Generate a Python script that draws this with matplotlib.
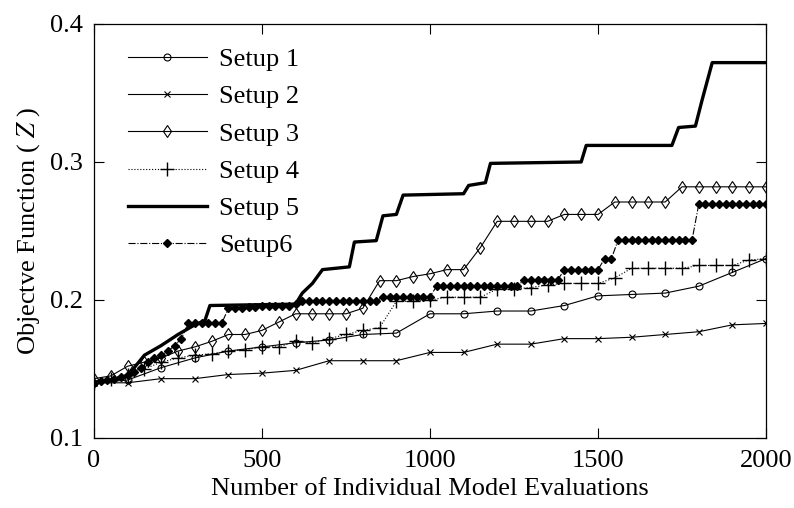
import numpy as np
import matplotlib
matplotlib.use("Agg")
import matplotlib.pyplot as plt

plt.rcParams['font.family'] = ['Liberation Serif', 'DejaVu Serif']
plt.rcParams['mathtext.fontset'] = 'stix'

# evaluation grids
x100 = np.arange(0, 2001, 100)
x50 = np.arange(0, 2001, 50)
x20 = np.arange(0, 2001, 20)

setup1 = [0.140, 0.142, 0.151, 0.158, 0.163, 0.166, 0.169, 0.171, 0.175, 0.176,
          0.190, 0.190, 0.192, 0.192, 0.196, 0.203, 0.204, 0.205, 0.210, 0.220, 0.230]

setup2 = [0.140, 0.140, 0.143, 0.143, 0.146, 0.147, 0.149, 0.156, 0.156, 0.156,
          0.162, 0.162, 0.168, 0.168, 0.172, 0.172, 0.173, 0.175, 0.177, 0.182, 0.183]

setup3 = [0.143, 0.145, 0.152, 0.155, 0.158, 0.163, 0.166, 0.170, 0.175, 0.175,
          0.178, 0.184, 0.190, 0.190, 0.190, 0.190, 0.194, 0.214, 0.214, 0.217,
          0.219, 0.222, 0.222, 0.238, 0.257, 0.257, 0.257, 0.257, 0.262, 0.262,
          0.262, 0.271, 0.271, 0.271, 0.271, 0.282, 0.282, 0.282, 0.282, 0.282, 0.282]

setup4 = [0.140, 0.143, 0.146, 0.150, 0.155, 0.158, 0.160, 0.161, 0.163, 0.164,
          0.166, 0.166, 0.170, 0.169, 0.172, 0.175, 0.178, 0.180, 0.199, 0.199,
          0.200, 0.202, 0.202, 0.202, 0.208, 0.208, 0.209, 0.211, 0.212, 0.212,
          0.212, 0.216, 0.223, 0.223, 0.223, 0.223, 0.225, 0.225, 0.225, 0.229, 0.230]

# setup 5: best-so-far curve, given at its break points
x5 = [0, 50, 100, 150, 200, 250, 300, 330, 345, 600, 620, 650, 680, 760, 775, 840,
      860, 900, 920, 1100, 1115, 1165, 1180, 1450, 1465, 1720, 1740, 1790, 1810,
      1840, 2000]
setup5 = [0.140, 0.142, 0.145, 0.160, 0.167, 0.175, 0.182, 0.185, 0.196, 0.197,
          0.205, 0.212, 0.222, 0.224, 0.242, 0.243, 0.261, 0.262, 0.276, 0.277,
          0.283, 0.285, 0.299, 0.300, 0.312, 0.312, 0.325, 0.326, 0.345, 0.372, 0.372]

setup6 = [0.140, 0.141, 0.142, 0.143, 0.144, 0.146, 0.148, 0.151, 0.155, 0.158,
          0.160, 0.163, 0.167, 0.172, 0.183, 0.183, 0.183, 0.183, 0.183, 0.183,
          0.194, 0.194, 0.194, 0.195, 0.195, 0.196, 0.196, 0.196, 0.196, 0.196,
          0.197,
          0.199, 0.199, 0.199, 0.199, 0.199, 0.199, 0.199, 0.199, 0.199, 0.199,
          0.199, 0.199,
          0.2025, 0.2025, 0.2025, 0.2025, 0.2025, 0.2025, 0.2025, 0.2025,
          0.210, 0.210, 0.210, 0.210, 0.210, 0.210, 0.210, 0.210, 0.210, 0.210,
          0.210, 0.210, 0.210,
          0.2145, 0.2145, 0.2145, 0.2145, 0.2145, 0.2145,
          0.222, 0.222, 0.222, 0.222, 0.222, 0.222,
          0.230, 0.230,
          0.2435, 0.2435, 0.2435, 0.2435, 0.2435, 0.2435, 0.2435, 0.2435,
          0.2435, 0.2435, 0.2435, 0.2435,
          0.2695, 0.2695, 0.2695, 0.2695, 0.2695, 0.2695, 0.2695, 0.2695,
          0.2695, 0.2695, 0.2695]

fig = plt.figure(figsize=(7.94, 5.08), dpi=100)
ax = fig.add_axes([0.1184, 0.1378, 0.8463, 0.815])

k = 'black'
ax.plot(x100, setup1, '-', color=k, lw=0.8, marker='o', ms=5, mfc='none', mew=0.8, label='Setup 1')
ax.plot(x100, setup2, '-', color=k, lw=0.8, marker='x', ms=5, mew=0.8, label='Setup 2')
ax.plot(x50, setup3, '-', color=k, lw=0.8, marker='d', ms=6.5, mfc='none', mew=0.8, label='Setup 3')
ax.plot(x50, setup4, ':', color=k, lw=0.8, marker='+', ms=10, mew=1.0, label='Setup 4')
ax.plot(x5, setup5, '-', color=k, lw=2.4, label='Setup 5')
ax.plot(x20, setup6, '-.', color=k, lw=0.8, marker='D', ms=4, label='Setup6')

ax.set_xlim(0, 2000)
ax.set_ylim(0.1, 0.4)
ax.set_xticks([0, 500, 1000, 1500, 2000])
ax.set_yticks([0.1, 0.2, 0.3, 0.4])
ax.tick_params(direction='in', length=7, width=0.8, top=True, right=True,
               labelsize=19, pad=8)
ax.tick_params(axis='x', pad=9)
for s in ax.spines.values():
    s.set_linewidth(0.9)

ax.set_xlabel('Number of Individual Model Evaluations', fontsize=19, labelpad=4)
ax.set_ylabel('Objectve Function ( $Z$ )', fontsize=19, labelpad=6)

ax.legend(loc='upper left', bbox_to_anchor=(0.015, 1.0), frameon=False,
          fontsize=19, numpoints=1, handlelength=3.0, handletextpad=0.45,
          labelspacing=0.52, borderaxespad=0.5, borderpad=0.4)

fig.savefig('out.png', dpi=100)
